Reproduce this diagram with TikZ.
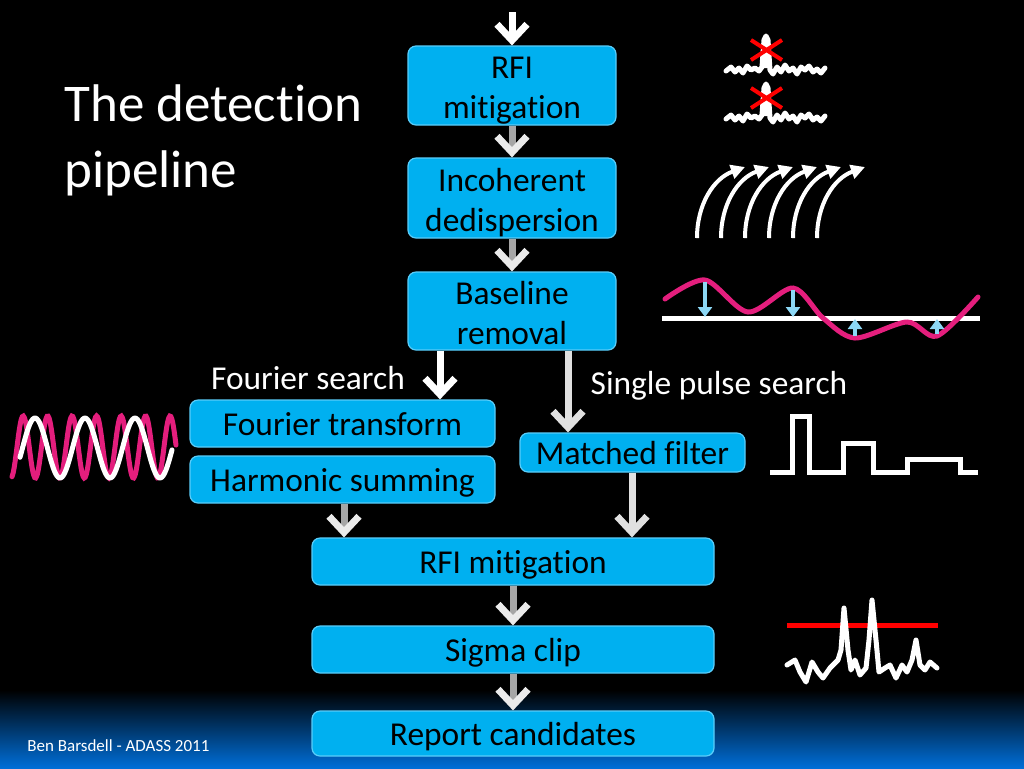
\documentclass[tikz,border=0pt]{standalone}
\usepackage{fontspec}
\setmainfont{Carlito}[Ligatures=NoCommon]
\usetikzlibrary{arrows.meta}
\definecolor{boxblue}{RGB}{0,176,240}
\definecolor{boxedge}{RGB}{90,205,250}
\definecolor{wavepink}{RGB}{228,30,125}
\definecolor{lightblue}{RGB}{140,215,245}
\definecolor{footblue}{RGB}{0,110,215}

\begin{document}
\begin{tikzpicture}[x=0.5pt, y=-0.5pt,
  box/.style={rectangle, rounded corners=4pt, fill=boxblue, draw=boxedge, line width=0.6pt,
    inner sep=0pt, align=center, text=black, font=\fontsize{16.7}{20}\selectfont,
    text height=15pt, text depth=3pt},
  box2/.style={box, text height=36pt, text depth=3pt},
  label/.style={text=white, inner sep=0pt, font=\fontsize{16.7}{20}\selectfont},
  flow/.style={draw=white, line width=3.5pt, -{Straight Barb[length=8pt,width=15pt]}},
  fade/.style={draw=black!35, line width=3.5pt, -{Straight Barb[length=8pt,width=15pt,color=black!8]}},
  curv/.style={draw=white, line width=2pt, -{Triangle[length=7pt,width=7pt]}},
  wline/.style={draw=white, line width=2.5pt, line join=round, line cap=round},
  pline/.style={draw=wavepink, line width=2.5pt, line cap=round},
  blarrow/.style={draw=lightblue, line width=2pt, -{Triangle[length=5pt,width=7pt]}},
  redx/.style={draw=red, line width=2pt}]

  % Fondo
  \useasboundingbox (0,0) rectangle (1024,768);
  \fill[black] (0,0) rectangle (1024,768);
  \shade[top color=black, bottom color=footblue] (0,690) rectangle (1024,768);

  % Titulo
  \node[text=white, anchor=base west, inner sep=0pt, font=\fontsize{26.5}{30}\selectfont] (tit1) at (64,121) {The detection};
  \node[text=white, anchor=base west, inner sep=0pt, font=\fontsize{26.5}{30}\selectfont] (tit2) at (64,187) {pipeline};
  \node[text=white, anchor=base west, inner sep=0pt, font=\fontsize{8.5}{10}\selectfont] (pie) at (27,751) {Ben Barsdell - ADASS 2011};

  % Nodos
  \node[box2, minimum width=104pt, minimum height=39.5pt] (rfiA) at (512,85.5) {RFI\\mitigation};        % RFI superior
  \node[box2, minimum width=104pt, minimum height=40pt] (dedisp) at (512,198) {Incoherent\\dedispersion};
  \node[box2, minimum width=104pt, minimum height=39pt] (base) at (512,311) {Baseline\\removal};
  \node[box, minimum width=152.5pt, minimum height=23.5pt] (fourier) at (342.5,423.5) {Fourier transform};
  \node[box, minimum width=152.5pt, minimum height=23.5pt] (harm) at (342.5,479.5) {Harmonic summing};
  \node[box, minimum width=112.5pt, minimum height=19.5pt] (matched) at (632.5,452.5) {Matched filter};
  \node[box, minimum width=201pt, minimum height=23.5pt] (rfiB) at (513,561.5) {RFI mitigation};       % RFI inferior
  \node[box, minimum width=201pt, minimum height=23.5pt] (sigma) at (513,649.5) {Sigma clip};
  \node[box, minimum width=201pt, minimum height=22.5pt] (report) at (513,733.5) {Report candidates};

  \node[label] (fslabel) at (308,378) {Fourier search};
  \node[label] (splabel) at (719,386) {Single pulse search};

  % Flechas
  \coordinate (entrada) at (512,12);
  \coordinate (fsx) at (440,0);
  \coordinate (spx) at (568,0);
  \coordinate (hsx) at (344,0);
  \coordinate (mfx) at (632,0);
  \draw[flow] (entrada) -- (rfiA.north);
  \draw[fade] (rfiA.south) -- (dedisp.north);
  \draw[fade] (dedisp.south) -- (base.north);
  \draw[flow] (base.south -| fsx) -- (fourier.north -| fsx);
  \draw[flow, draw=black!12] (base.south -| spx) -- (matched.north -| spx);
  \draw[fade] (harm.south -| hsx) -- (rfiB.north -| hsx);
  \draw[flow, draw=black!12] (matched.south -| mfx) -- (rfiB.north -| mfx);
  \draw[fade] (rfiB.south) -- (sigma.north);
  \draw[fade] (sigma.south) -- (report.north);

  % RFI
  \foreach \dy in {0,48} {
    \begin{scope}[shift={(0,\dy)}]
      \draw[wline] (726,71) -- (731,67) -- (735,72) -- (739,68) -- (743,73) -- (747,66) -- (751,70)
        -- (755,68) -- (759,71) -- (762,67) -- (764,40) -- (766,36) -- (768,40) -- (770,70) -- (773,74)
        -- (777,67) -- (781,72) -- (785,65) -- (789,71) -- (793,68) -- (797,74) -- (801,67) -- (805,70)
        -- (809,66) -- (813,72) -- (817,69) -- (821,73) -- (825,68);
      \fill[white] (762,68) -- (764,42) -- (766,37) -- (768,42) -- (770,68) -- cycle;
      \draw[redx] (751,40) -- (782,60) (751,60) -- (782,40);
    \end{scope}
  }

  % Dedispersion
  \foreach \i in {0,...,5}
    \draw[curv] (697+24*\i,238) to[out=90,in=200] (745+24*\i,167);

  % Baseline
  \draw[wline, line cap=butt] (662,318) -- (980,318);
  \draw[pline] plot[smooth] coordinates {(665,299) (705,280) (748,312) (793,288) (823,318)
    (855,338) (907,322) (937,336) (978,297)};
  \draw[blarrow] (705,282) -- (705,317);
  \draw[blarrow] (793,290) -- (793,317);
  \draw[blarrow] (855,336) -- (855,319);
  \draw[blarrow] (937,334) -- (937,319);

  % Ondas
  \draw[pline] plot[domain=12:176, samples=160, smooth] (\x,{447-31*sin(14.694*(\x-17))});
  \draw[wline] plot[domain=20:172, samples=120, smooth] (\x,{448-30*sin(7.2*(\x-22.5))});

  % Pulsos
  \draw[wline, line cap=butt, line join=miter] (770,472) -- (792,472) -- (792,416) -- (809,416) -- (809,472)
    -- (843,472) -- (843,443) -- (873,443) -- (873,472) -- (907,472) -- (907,459) -- (960,459)
    -- (960,472) -- (978,472);

  % Sigma clip
  \draw[draw=red, line width=2.5pt] (787,625) -- (938,625);
  \draw[wline] (787,665) -- (795,660) -- (800,672) -- (806,682) -- (812,662) -- (818,672) -- (823,678)
    -- (830,668) -- (838,660) -- (841,650) -- (844,608) -- (848,650) -- (851,670) -- (855,660)
    -- (860,675) -- (866,668) -- (869,640) -- (872,600) -- (876,640) -- (879,672) -- (885,668)
    -- (890,665) -- (896,678) -- (902,665) -- (907,672) -- (912,660) -- (916,640) -- (920,665)
    -- (925,670) -- (930,662) -- (937,668);
\end{tikzpicture}
\end{document}
